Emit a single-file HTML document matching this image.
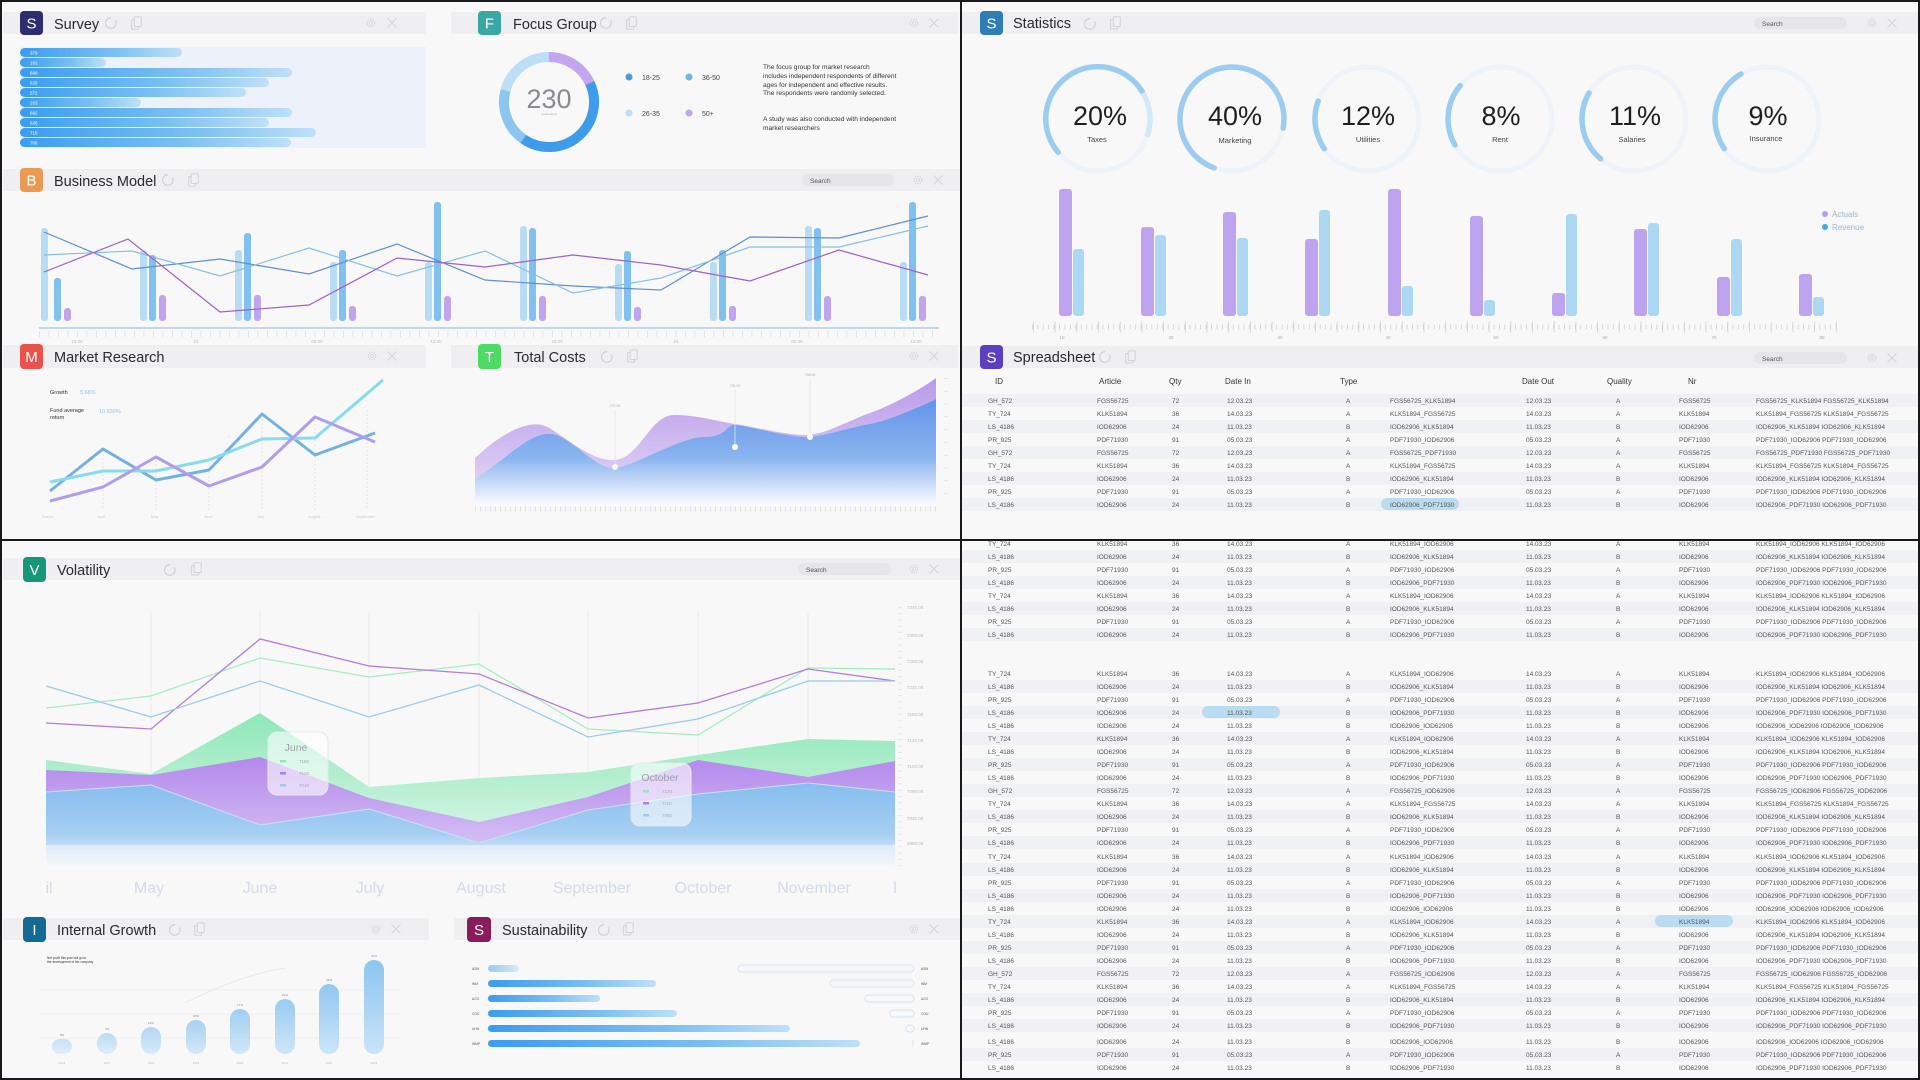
<!DOCTYPE html>
<html><head><meta charset="utf-8"><style>
html,body{margin:0;padding:0;background:#f8f8f9;}
svg{display:block;font-family:"Liberation Sans",sans-serif;}
</style></head><body>
<svg width="1920" height="1080" viewBox="0 0 1920 1080" xmlns="http://www.w3.org/2000/svg">
<defs>
<symbol id="rf" viewBox="0 0 16 16"><path d="M13 5 A6 6 0 1 1 8 2" fill="none" stroke="#cfd0d4" stroke-width="1.3"/></symbol>
<symbol id="cp" viewBox="0 0 16 16"><rect x="3" y="4" width="8" height="11" rx="1" fill="none" stroke="#d2d3d7" stroke-width="1.2"/><rect x="6" y="1" width="8" height="11" rx="1" fill="#f0f0f2" stroke="#d2d3d7" stroke-width="1.2"/></symbol>
<symbol id="gr" viewBox="0 0 16 16"><circle cx="8" cy="8" r="5" fill="none" stroke="#d4d5d9" stroke-width="1.6" stroke-dasharray="2 1.2"/><circle cx="8" cy="8" r="2" fill="none" stroke="#d4d5d9"/></symbol>
<symbol id="xx" viewBox="0 0 16 16"><path d="M2 2L14 14M14 2L2 14" stroke="#d4d5d9" stroke-width="1.2"/></symbol>
<linearGradient id="sb" x1="0" x2="1"><stop offset="0" stop-color="#3b9cf0"/><stop offset="0.6" stop-color="#7cc0f2"/><stop offset="1" stop-color="#bfe0f8"/></linearGradient>
<linearGradient id="tcP" x1="0" y1="0" x2="0" y2="1"><stop offset="0" stop-color="#b99ae9"/><stop offset="1" stop-color="#e6dcf8"/></linearGradient>
<linearGradient id="tcB" x1="0" y1="0" x2="0" y2="1"><stop offset="0" stop-color="#5f92e8"/><stop offset="0.55" stop-color="#86b4ef"/><stop offset="1" stop-color="#ffffff"/></linearGradient>
<linearGradient id="vG" x1="0" y1="0" x2="0" y2="1"><stop offset="0" stop-color="#8ee8b8"/><stop offset="1" stop-color="#e8f8f0"/></linearGradient>
<linearGradient id="vP" x1="0" y1="0" x2="0" y2="1"><stop offset="0" stop-color="#b488ec"/><stop offset="1" stop-color="#dccff6"/></linearGradient>
<linearGradient id="vB" x1="0" y1="0" x2="0" y2="1"><stop offset="0" stop-color="#86bdee"/><stop offset="0.6" stop-color="#a7cff3"/><stop offset="1" stop-color="#f8fbff"/></linearGradient>
<linearGradient id="ig" x1="0" y1="0" x2="0" y2="1"><stop offset="0" stop-color="#8cc5f0"/><stop offset="1" stop-color="#c9e3f8"/></linearGradient>
</defs>
<rect width="1920" height="1080" fill="#f8f8f9"/>

<!-- ================= SURVEY ================= -->
<rect x="3" y="12" width="423" height="22" fill="#efeff1"/>
<rect x="20" y="11" width="23" height="24" rx="4" fill="#2b2e6f"/>
<text x="31.5" y="28.5" font-size="15" fill="#fff" text-anchor="middle">S</text>
<text x="54" y="29" font-size="14.5" fill="#2a2a2e">Survey</text>
<use href="#rf" x="104" y="16" width="14" height="14"/><use href="#cp" x="129" y="15" width="14" height="16"/>
<use href="#gr" x="365" y="17" width="12" height="12"/><use href="#xx" x="386" y="17" width="12" height="12"/>
<g>
<rect x="20" y="47" width="406" height="101" fill="#edf2fa"/>
<g fill="url(#sb)">
<rect x="20" y="48" width="162" height="9" rx="4.5"/><rect x="20" y="58" width="86" height="9" rx="4.5"/>
<rect x="20" y="68" width="272" height="9" rx="4.5"/><rect x="20" y="78" width="249" height="9" rx="4.5"/>
<rect x="20" y="88" width="226" height="9" rx="4.5"/><rect x="20" y="98" width="121" height="9" rx="4.5"/>
<rect x="20" y="108" width="272" height="9" rx="4.5"/><rect x="20" y="118" width="249" height="9" rx="4.5"/>
<rect x="20" y="128" width="296" height="9" rx="4.5"/><rect x="20" y="138" width="271" height="9" rx="4.5"/>
</g>
<g font-size="4.5" fill="#fff"><text x="30" y="54.5">379</text><text x="30" y="64.5">162</text><text x="30" y="74.5">698</text><text x="30" y="84.5">629</text><text x="30" y="94.5">572</text><text x="30" y="104.5">283</text><text x="30" y="114.5">682</text><text x="30" y="124.5">626</text><text x="30" y="134.5">715</text><text x="30" y="144.5">706</text></g>
</g>

<!-- ================= FOCUS GROUP ================= -->
<rect x="451" y="12" width="507" height="22" fill="#efeff1"/>
<rect x="478" y="11" width="23" height="24" rx="4" fill="#3aa7a2"/>
<text x="489.5" y="28.5" font-size="15" fill="#fff" text-anchor="middle">F</text>
<text x="513" y="29" font-size="14.5" fill="#2a2a2e">Focus Group</text>
<use href="#rf" x="599" y="16" width="14" height="14"/><use href="#cp" x="624" y="15" width="14" height="16"/>
<use href="#gr" x="908" y="17" width="12" height="12"/><use href="#xx" x="928" y="17" width="12" height="12"/>
<g fill="none" stroke-width="10">
<path d="M549 57 A45 45 0 0 1 589.8 83" stroke="#c3a6ee"/>
<path d="M589.8 83 A45 45 0 0 1 523.2 138.9" stroke="#3f9ceb"/>
<path d="M523.2 138.9 A45 45 0 0 1 505.5 90.4" stroke="#8cc6f0"/>
<path d="M505.5 90.4 A45 45 0 0 1 549 57" stroke="#bcdff7"/>
</g>
<text x="549" y="108" font-size="27" fill="#8a8a90" text-anchor="middle">230</text>
<text x="549" y="115" font-size="3" fill="#aaa" text-anchor="middle">respondents</text>
<circle cx="629" cy="77" r="3.5" fill="#3f9ceb"/><circle cx="689" cy="77" r="3.5" fill="#6db8ee"/>
<circle cx="629" cy="113" r="3.5" fill="#bcdff7"/><circle cx="689" cy="113" r="3.5" fill="#c3a6ee"/>
<g font-size="7" fill="#444"><text x="642" y="80">18-25</text><text x="702" y="80">36-50</text><text x="642" y="116">26-35</text><text x="702" y="116">50+</text></g>
<g font-size="6.6" fill="#333"><text x="763" y="69">The focus group for market research</text><text x="763" y="78">includes independent respondents of different</text><text x="763" y="87">ages for independent and effective results.</text><text x="763" y="95">The respondents were randomly selected.</text><text x="763" y="121">A study was also conducted with independent</text><text x="763" y="130">market researchers</text></g>

<!-- ================= BUSINESS MODEL ================= -->
<rect x="3" y="169" width="957" height="22" fill="#efeff1"/>
<rect x="20" y="168" width="23" height="24" rx="4" fill="#ea9a52"/>
<text x="31.5" y="185.5" font-size="15" fill="#fff" text-anchor="middle">B</text>
<text x="54" y="186" font-size="14.5" fill="#2a2a2e">Business Model</text>
<use href="#rf" x="161" y="173" width="14" height="14"/><use href="#cp" x="186" y="172" width="14" height="16"/>
<rect x="802" y="174" width="92" height="12" rx="6" fill="#e6e6e9"/><text x="810" y="183" font-size="6.5" fill="#555">Search</text>
<use href="#gr" x="912" y="174" width="12" height="12"/><use href="#xx" x="932" y="174" width="12" height="12"/>
<g>
<g fill="#b9dcf5">
<rect x="41" y="228" width="7" height="93" rx="3"/><rect x="140" y="250" width="7" height="71" rx="3"/><rect x="235" y="250" width="7" height="71" rx="3"/><rect x="330" y="262" width="7" height="59" rx="3"/><rect x="425" y="262" width="7" height="59" rx="3"/><rect x="520" y="226" width="7" height="95" rx="3"/><rect x="615" y="264" width="7" height="57" rx="3"/><rect x="710" y="262" width="7" height="59" rx="3"/><rect x="805" y="226" width="7" height="95" rx="3"/><rect x="900" y="262" width="7" height="59" rx="3"/>
</g>
<g fill="#80c1ef">
<rect x="54" y="278" width="7" height="43" rx="3"/><rect x="149" y="255" width="7" height="66" rx="3"/><rect x="244" y="233" width="7" height="88" rx="3"/><rect x="339" y="250" width="7" height="71" rx="3"/><rect x="434" y="202" width="7" height="119" rx="3"/><rect x="529" y="228" width="7" height="93" rx="3"/><rect x="624" y="251" width="7" height="70" rx="3"/><rect x="719" y="250" width="7" height="71" rx="3"/><rect x="814" y="228" width="7" height="93" rx="3"/><rect x="909" y="202" width="7" height="119" rx="3"/>
</g>
<g fill="#c0a4ee">
<rect x="64" y="308" width="7" height="13" rx="3"/><rect x="159" y="295" width="7" height="26" rx="3"/><rect x="254" y="295" width="7" height="26" rx="3"/><rect x="349" y="306" width="7" height="15" rx="3"/><rect x="444" y="296" width="7" height="25" rx="3"/><rect x="539" y="296" width="7" height="25" rx="3"/><rect x="634" y="307" width="7" height="14" rx="3"/><rect x="729" y="306" width="7" height="15" rx="3"/><rect x="824" y="296" width="7" height="25" rx="3"/><rect x="919" y="296" width="7" height="25" rx="3"/>
</g>
<g fill="none" stroke-width="1.2">
<polyline points="44,232 132,269 220,259 309,274 397,244 485,280 573,286 661,290 750,237 839,238 928,216" stroke="#5f8ed3"/>
<polyline points="44,255 132,251 220,276 309,248 397,276 485,251 573,293 661,278 750,247 839,247 928,226" stroke="#86c0e3"/>
<polyline points="44,272 128,239 220,312 309,305 397,258 485,267 573,255 661,265 750,281 839,250 928,275" stroke="#a05fcb"/>
</g>
<line x1="39" y1="328" x2="939" y2="328" stroke="#bcd8ec" stroke-width="2"/>
<line x1="39" y1="334" x2="939" y2="334" stroke="#dcdde2" stroke-width="6" stroke-dasharray="0.8 8.7"/>
<g font-size="4.5" fill="#bbb" text-anchor="middle"><text x="77" y="343">18:00</text><text x="196" y="343">24</text><text x="317" y="343">06:00</text><text x="436" y="343">12:00</text><text x="557" y="343">18:00</text><text x="676" y="343">24</text><text x="797" y="343">06:00</text><text x="916" y="343">12:00</text></g>
</g>

<!-- ================= MARKET RESEARCH ================= -->
<rect x="3" y="345" width="423" height="23" fill="#efeff1"/>
<rect x="20" y="344" width="23" height="25" rx="4" fill="#e9534b"/>
<text x="31.5" y="362" font-size="15" fill="#fff" text-anchor="middle">M</text>
<text x="54" y="362" font-size="14.5" fill="#2a2a2e">Market Research</text>
<use href="#gr" x="366" y="350" width="12" height="12"/><use href="#xx" x="386" y="350" width="12" height="12"/>
<g font-size="5.5" fill="#333"><text x="50" y="394">Growth</text><text x="50" y="412">Fund average</text><text x="50" y="419">return</text></g>
<g font-size="5.5" fill="#8fc4ec"><text x="80" y="394">5.68%</text><text x="99" y="413">10.639%</text></g>
<g stroke="#e3e4e8" stroke-dasharray="2 2"><line x1="103" y1="450" x2="103" y2="510"/><line x1="156" y1="460" x2="156" y2="510"/><line x1="209" y1="460" x2="209" y2="510"/><line x1="262" y1="415" x2="262" y2="510"/><line x1="315" y1="420" x2="315" y2="510"/><line x1="367" y1="410" x2="367" y2="510"/></g>
<g fill="none" stroke-width="3" stroke-linejoin="round">
<polyline points="50,491 103,449 156,480 209,470 262,414 315,455 375,433" stroke="#74b1e3"/>
<polyline points="50,482 103,471 156,471 209,460 262,439 315,438 383,380" stroke="#86dcef"/>
<polyline points="50,501 103,487 156,457 209,486 262,467 315,417 375,442" stroke="#b19cee"/>
</g>
<g font-size="4" fill="#ccc"><text x="42" y="518">March</text><text x="97" y="518">April</text><text x="151" y="518">May</text><text x="204" y="518">June</text><text x="257" y="518">July</text><text x="308" y="518">August</text><text x="356" y="518">September</text></g>

<!-- ================= TOTAL COSTS ================= -->
<rect x="451" y="345" width="507" height="23" fill="#efeff1"/>
<rect x="478" y="344" width="23" height="25" rx="4" fill="#4fd965"/>
<text x="489.5" y="362" font-size="15" fill="#fff" text-anchor="middle">T</text>
<text x="514" y="362" font-size="14.5" fill="#2a2a2e">Total Costs</text>
<use href="#rf" x="600" y="350" width="14" height="14"/><use href="#cp" x="625" y="348" width="14" height="16"/>
<use href="#gr" x="908" y="350" width="12" height="12"/><use href="#xx" x="928" y="350" width="12" height="12"/>
<path d="M475,458 C505,430 530,420 545,426 S590,462 615,460 S650,415 674,415 S720,422 735,424 S790,436 808,435 S850,420 870,413 S920,390 936,378 L936,506 L475,506Z" fill="url(#tcP)"/>
<path d="M475,479 C505,460 530,432 551,434 S595,470 615,468 S680,437 704,437 S725,425 735,425 S790,438 808,437 S855,426 870,424 S925,405 936,399 L936,506 L475,506Z" fill="url(#tcB)" opacity="0.95"/>
<g stroke="#e4e4ea" stroke-width="0.8"><line x1="615" y1="410" x2="615" y2="466"/><line x1="735" y1="390" x2="735" y2="446"/><line x1="810" y1="379" x2="810" y2="436"/></g>
<g fill="#fff"><circle cx="615" cy="467" r="3"/><circle cx="735" cy="447" r="3"/><circle cx="810" cy="437" r="3"/></g>
<g font-size="3.5" fill="#aab" text-anchor="middle"><text x="615" y="407">707.00</text><text x="735" y="387">752.00</text><text x="810" y="376">755.00</text></g>
<line x1="946" y1="378" x2="946" y2="506" stroke="#dcdde2" stroke-width="4" stroke-dasharray="0.8 12"/>
<line x1="475" y1="509" x2="936" y2="509" stroke="#dcdde2" stroke-width="5" stroke-dasharray="0.8 4.2"/>

<!-- ================= STATISTICS ================= -->
<rect x="962" y="12" width="958" height="22" fill="#efeff1"/>
<rect x="980" y="11" width="23" height="24" rx="4" fill="#2f7db6"/>
<text x="991.5" y="28.5" font-size="15" fill="#fff" text-anchor="middle">S</text>
<text x="1013" y="28" font-size="14.5" fill="#2a2a2e">Statistics</text>
<use href="#rf" x="1083" y="17" width="14" height="14"/><use href="#cp" x="1108" y="15" width="14" height="16"/>
<rect x="1754" y="17" width="93" height="12" rx="6" fill="#e6e6e9"/><text x="1762" y="26" font-size="6.5" fill="#555">Search</text>
<use href="#gr" x="1866" y="17" width="12" height="12"/><use href="#xx" x="1886" y="17" width="12" height="12"/>
<g fill="none" stroke="#edf3f9" stroke-width="5">
<circle cx="1098" cy="119" r="52"/><circle cx="1232" cy="119" r="52"/><circle cx="1367" cy="119" r="52"/><circle cx="1500" cy="119" r="52"/><circle cx="1634" cy="119" r="52"/><circle cx="1767" cy="119" r="52"/>
</g>
<g fill="none" stroke="#9ccdf0" stroke-width="5.5" stroke-linecap="round">
<path d="M1058.2 152.4 A52 52 0 1 1 1143 93"/>
<path d="M1214.2 167.9 A52 52 0 1 1 1283.2 128"/>
<path d="M1324.4 148.8 A52 52 0 0 1 1318.1 101.2"/>
<path d="M1455 145 A52 52 0 0 1 1460.2 85.6"/>
<path d="M1600.6 158.8 A52 52 0 0 1 1589 93"/>
<path d="M1724.4 148.8 A52 52 0 0 1 1741 74"/>
</g>
<path d="M1143 93 A52 52 0 0 1 1146.9 136.8" fill="none" stroke="#d4e9f8" stroke-width="5.5"/>
<g font-size="27" fill="#1f1f22" text-anchor="middle"><text x="1100" y="125">20%</text><text x="1235" y="125">40%</text><text x="1368" y="125">12%</text><text x="1501" y="125">8%</text><text x="1635" y="125">11%</text><text x="1768" y="125">9%</text></g>
<g font-size="7.5" fill="#444" text-anchor="middle"><text x="1097" y="142">Taxes</text><text x="1235" y="143">Marketing</text><text x="1368" y="142">Utilities</text><text x="1500" y="142">Rent</text><text x="1632" y="142">Salaries</text><text x="1766" y="141">Insurance</text></g>
<g fill="#bea3ef">
<rect x="1059" y="189" width="13" height="127" rx="3"/><rect x="1141" y="227" width="13" height="89" rx="3"/><rect x="1223" y="212" width="13" height="104" rx="3"/><rect x="1305" y="239" width="13" height="77" rx="3"/><rect x="1388" y="189" width="13" height="127" rx="3"/><rect x="1470" y="216" width="13" height="100" rx="3"/><rect x="1552" y="293" width="13" height="23" rx="3"/><rect x="1634" y="229" width="13" height="87" rx="3"/><rect x="1717" y="277" width="13" height="39" rx="3"/><rect x="1799" y="274" width="13" height="42" rx="3"/>
</g>
<g fill="#acd8f3">
<rect x="1073" y="249" width="11" height="67" rx="3"/><rect x="1155" y="235" width="11" height="81" rx="3"/><rect x="1237" y="238" width="11" height="78" rx="3"/><rect x="1319" y="210" width="11" height="106" rx="3"/><rect x="1402" y="286" width="11" height="30" rx="3"/><rect x="1484" y="300" width="11" height="16" rx="3"/><rect x="1566" y="214" width="11" height="102" rx="3"/><rect x="1648" y="223" width="11" height="93" rx="3"/><rect x="1731" y="239" width="11" height="77" rx="3"/><rect x="1813" y="297" width="11" height="19" rx="3"/>
</g>
<circle cx="1825" cy="214" r="3" fill="#b79bee"/><circle cx="1825" cy="227" r="3" fill="#3aaee3"/>
<g font-size="8" fill="#9cb5d8"><text x="1832" y="217">Actuals</text><text x="1832" y="230">Revenue</text></g>
<line x1="1032" y1="327" x2="1837" y2="327" stroke="#cfd0d6" stroke-width="5" stroke-dasharray="0.8 4.63"/>
<line x1="1032" y1="327" x2="1837" y2="327" stroke="#cfd0d6" stroke-width="11" stroke-dasharray="0.8 20.9" stroke-dashoffset="-1"/>
<g font-size="4.5" fill="#aaa" text-anchor="middle"><text x="1062" y="339">10</text><text x="1171" y="339">20</text><text x="1280" y="339">30</text><text x="1388" y="339">40</text><text x="1496" y="339">50</text><text x="1605" y="339">60</text><text x="1714" y="339">70</text><text x="1822" y="339">80</text></g>

<!-- ================= SPREADSHEET ================= -->
<rect x="962" y="346" width="958" height="22" fill="#efeff1"/>
<rect x="980" y="345" width="23" height="24" rx="4" fill="#5a3fbf"/>
<text x="991.5" y="362.5" font-size="15" fill="#fff" text-anchor="middle">S</text>
<text x="1013" y="362" font-size="14.5" fill="#2a2a2e">Spreadsheet</text>
<use href="#rf" x="1098" y="350" width="14" height="14"/><use href="#cp" x="1123" y="349" width="14" height="16"/>
<rect x="1754" y="352" width="93" height="12" rx="6" fill="#e6e6e9"/><text x="1762" y="361" font-size="6.5" fill="#555">Search</text>
<use href="#gr" x="1866" y="352" width="12" height="12"/><use href="#xx" x="1886" y="352" width="12" height="12"/>
<g font-size="8" fill="#333"><text x="995" y="384">ID</text><text x="1099" y="384">Article</text><text x="1169" y="384">Qty</text><text x="1225" y="384">Date In</text><text x="1340" y="384">Type</text><text x="1522" y="384">Date Out</text><text x="1607" y="384">Quality</text><text x="1688" y="384">Nr</text></g>
<g fill="#f0f1f4">
<rect x="962" y="394" width="958" height="13"/><rect x="962" y="420" width="958" height="13"/><rect x="962" y="446" width="958" height="13"/><rect x="962" y="472" width="958" height="13"/><rect x="962" y="498" width="958" height="13"/>
<rect x="962" y="550" width="958" height="13"/><rect x="962" y="576" width="958" height="13"/><rect x="962" y="602" width="958" height="13"/><rect x="962" y="628" width="958" height="13"/>
<rect x="962" y="680" width="958" height="13"/><rect x="962" y="706" width="958" height="13"/><rect x="962" y="732" width="958" height="13"/><rect x="962" y="758" width="958" height="13"/><rect x="962" y="784" width="958" height="13"/><rect x="962" y="810" width="958" height="13"/><rect x="962" y="836" width="958" height="13"/>
<rect x="962" y="863" width="958" height="13"/><rect x="962" y="889" width="958" height="13"/><rect x="962" y="915" width="958" height="13"/><rect x="962" y="941" width="958" height="13"/><rect x="962" y="967" width="958" height="13"/><rect x="962" y="993" width="958" height="13"/><rect x="962" y="1019" width="958" height="13"/><rect x="962" y="1048" width="958" height="13"/>
</g>
<g fill="#b9dcf3"><rect x="1381" y="498" width="78" height="12" rx="6"/><rect x="1202" y="706" width="78" height="12" rx="6"/><rect x="1655" y="915" width="78" height="12" rx="6"/></g>
<g font-size="6.5" fill="#555">
<text y="403"><tspan x="988">GH_572</tspan><tspan x="1097">FGS56725</tspan><tspan x="1172">72</tspan><tspan x="1227">12.03.23</tspan><tspan x="1346">A</tspan><tspan x="1390">FGS56725_KLK51894</tspan><tspan x="1526">12.03.23</tspan><tspan x="1616">A</tspan><tspan x="1679">FGS56725</tspan><tspan x="1756">FGS56725_KLK51894 FGS56725_KLK51894</tspan></text>
<text y="416"><tspan x="988">TY_724</tspan><tspan x="1097">KLK51894</tspan><tspan x="1172">36</tspan><tspan x="1227">14.03.23</tspan><tspan x="1346">A</tspan><tspan x="1390">KLK51894_FGS56725</tspan><tspan x="1526">14.03.23</tspan><tspan x="1616">A</tspan><tspan x="1679">KLK51894</tspan><tspan x="1756">KLK51894_FGS56725 KLK51894_FGS56725</tspan></text>
<text y="429"><tspan x="988">LS_4186</tspan><tspan x="1097">IOD62906</tspan><tspan x="1172">24</tspan><tspan x="1227">11.03.23</tspan><tspan x="1346">B</tspan><tspan x="1390">IOD62906_KLK51894</tspan><tspan x="1526">11.03.23</tspan><tspan x="1616">B</tspan><tspan x="1679">IOD62906</tspan><tspan x="1756">IOD62906_KLK51894 IOD62906_KLK51894</tspan></text>
<text y="442"><tspan x="988">PR_925</tspan><tspan x="1097">PDF71930</tspan><tspan x="1172">91</tspan><tspan x="1227">05.03.23</tspan><tspan x="1346">A</tspan><tspan x="1390">PDF71930_IOD62906</tspan><tspan x="1526">05.03.23</tspan><tspan x="1616">A</tspan><tspan x="1679">PDF71930</tspan><tspan x="1756">PDF71930_IOD62906 PDF71930_IOD62906</tspan></text>
<text y="455"><tspan x="988">GH_572</tspan><tspan x="1097">FGS56725</tspan><tspan x="1172">72</tspan><tspan x="1227">12.03.23</tspan><tspan x="1346">A</tspan><tspan x="1390">FGS56725_PDF71930</tspan><tspan x="1526">12.03.23</tspan><tspan x="1616">A</tspan><tspan x="1679">FGS56725</tspan><tspan x="1756">FGS56725_PDF71930 FGS56725_PDF71930</tspan></text>
<text y="468"><tspan x="988">TY_724</tspan><tspan x="1097">KLK51894</tspan><tspan x="1172">36</tspan><tspan x="1227">14.03.23</tspan><tspan x="1346">A</tspan><tspan x="1390">KLK51894_FGS56725</tspan><tspan x="1526">14.03.23</tspan><tspan x="1616">A</tspan><tspan x="1679">KLK51894</tspan><tspan x="1756">KLK51894_FGS56725 KLK51894_FGS56725</tspan></text>
<text y="481"><tspan x="988">LS_4186</tspan><tspan x="1097">IOD62906</tspan><tspan x="1172">24</tspan><tspan x="1227">11.03.23</tspan><tspan x="1346">B</tspan><tspan x="1390">IOD62906_KLK51894</tspan><tspan x="1526">11.03.23</tspan><tspan x="1616">B</tspan><tspan x="1679">IOD62906</tspan><tspan x="1756">IOD62906_KLK51894 IOD62906_KLK51894</tspan></text>
<text y="494"><tspan x="988">PR_925</tspan><tspan x="1097">PDF71930</tspan><tspan x="1172">91</tspan><tspan x="1227">05.03.23</tspan><tspan x="1346">A</tspan><tspan x="1390">PDF71930_IOD62906</tspan><tspan x="1526">05.03.23</tspan><tspan x="1616">A</tspan><tspan x="1679">PDF71930</tspan><tspan x="1756">PDF71930_IOD62906 PDF71930_IOD62906</tspan></text>
<text y="507"><tspan x="988">LS_4186</tspan><tspan x="1097">IOD62906</tspan><tspan x="1172">24</tspan><tspan x="1227">11.03.23</tspan><tspan x="1346">B</tspan><tspan x="1390">IOD62906_PDF71930</tspan><tspan x="1526">11.03.23</tspan><tspan x="1616">B</tspan><tspan x="1679">IOD62906</tspan><tspan x="1756">IOD62906_PDF71930 IOD62906_PDF71930</tspan></text>

<text y="546"><tspan x="988">TY_724</tspan><tspan x="1097">KLK51894</tspan><tspan x="1172">36</tspan><tspan x="1227">14.03.23</tspan><tspan x="1346">A</tspan><tspan x="1390">KLK51894_IOD62906</tspan><tspan x="1526">14.03.23</tspan><tspan x="1616">A</tspan><tspan x="1679">KLK51894</tspan><tspan x="1756">KLK51894_IOD62906 KLK51894_IOD62906</tspan></text>
<text y="559"><tspan x="988">LS_4186</tspan><tspan x="1097">IOD62906</tspan><tspan x="1172">24</tspan><tspan x="1227">11.03.23</tspan><tspan x="1346">B</tspan><tspan x="1390">IOD62906_KLK51894</tspan><tspan x="1526">11.03.23</tspan><tspan x="1616">B</tspan><tspan x="1679">IOD62906</tspan><tspan x="1756">IOD62906_KLK51894 IOD62906_KLK51894</tspan></text>
<text y="572"><tspan x="988">PR_925</tspan><tspan x="1097">PDF71930</tspan><tspan x="1172">91</tspan><tspan x="1227">05.03.23</tspan><tspan x="1346">A</tspan><tspan x="1390">PDF71930_IOD62906</tspan><tspan x="1526">05.03.23</tspan><tspan x="1616">A</tspan><tspan x="1679">PDF71930</tspan><tspan x="1756">PDF71930_IOD62906 PDF71930_IOD62906</tspan></text>
<text y="585"><tspan x="988">LS_4186</tspan><tspan x="1097">IOD62906</tspan><tspan x="1172">24</tspan><tspan x="1227">11.03.23</tspan><tspan x="1346">B</tspan><tspan x="1390">IOD62906_PDF71930</tspan><tspan x="1526">11.03.23</tspan><tspan x="1616">B</tspan><tspan x="1679">IOD62906</tspan><tspan x="1756">IOD62906_PDF71930 IOD62906_PDF71930</tspan></text>
<text y="598"><tspan x="988">TY_724</tspan><tspan x="1097">KLK51894</tspan><tspan x="1172">36</tspan><tspan x="1227">14.03.23</tspan><tspan x="1346">A</tspan><tspan x="1390">KLK51894_IOD62906</tspan><tspan x="1526">14.03.23</tspan><tspan x="1616">A</tspan><tspan x="1679">KLK51894</tspan><tspan x="1756">KLK51894_IOD62906 KLK51894_IOD62906</tspan></text>
<text y="611"><tspan x="988">LS_4186</tspan><tspan x="1097">IOD62906</tspan><tspan x="1172">24</tspan><tspan x="1227">11.03.23</tspan><tspan x="1346">B</tspan><tspan x="1390">IOD62906_KLK51894</tspan><tspan x="1526">11.03.23</tspan><tspan x="1616">B</tspan><tspan x="1679">IOD62906</tspan><tspan x="1756">IOD62906_KLK51894 IOD62906_KLK51894</tspan></text>
<text y="624"><tspan x="988">PR_925</tspan><tspan x="1097">PDF71930</tspan><tspan x="1172">91</tspan><tspan x="1227">05.03.23</tspan><tspan x="1346">A</tspan><tspan x="1390">PDF71930_IOD62906</tspan><tspan x="1526">05.03.23</tspan><tspan x="1616">A</tspan><tspan x="1679">PDF71930</tspan><tspan x="1756">PDF71930_IOD62906 PDF71930_IOD62906</tspan></text>
<text y="637"><tspan x="988">LS_4186</tspan><tspan x="1097">IOD62906</tspan><tspan x="1172">24</tspan><tspan x="1227">11.03.23</tspan><tspan x="1346">B</tspan><tspan x="1390">IOD62906_PDF71930</tspan><tspan x="1526">11.03.23</tspan><tspan x="1616">B</tspan><tspan x="1679">IOD62906</tspan><tspan x="1756">IOD62906_PDF71930 IOD62906_PDF71930</tspan></text>

<text y="676"><tspan x="988">TY_724</tspan><tspan x="1097">KLK51894</tspan><tspan x="1172">36</tspan><tspan x="1227">14.03.23</tspan><tspan x="1346">A</tspan><tspan x="1390">KLK51894_IOD62906</tspan><tspan x="1526">14.03.23</tspan><tspan x="1616">A</tspan><tspan x="1679">KLK51894</tspan><tspan x="1756">KLK51894_IOD62906 KLK51894_IOD62906</tspan></text>
<text y="689"><tspan x="988">LS_4186</tspan><tspan x="1097">IOD62906</tspan><tspan x="1172">24</tspan><tspan x="1227">11.03.23</tspan><tspan x="1346">B</tspan><tspan x="1390">IOD62906_KLK51894</tspan><tspan x="1526">11.03.23</tspan><tspan x="1616">B</tspan><tspan x="1679">IOD62906</tspan><tspan x="1756">IOD62906_KLK51894 IOD62906_KLK51894</tspan></text>
<text y="702"><tspan x="988">PR_925</tspan><tspan x="1097">PDF71930</tspan><tspan x="1172">91</tspan><tspan x="1227">05.03.23</tspan><tspan x="1346">A</tspan><tspan x="1390">PDF71930_IOD62906</tspan><tspan x="1526">05.03.23</tspan><tspan x="1616">A</tspan><tspan x="1679">PDF71930</tspan><tspan x="1756">PDF71930_IOD62906 PDF71930_IOD62906</tspan></text>
<text y="715"><tspan x="988">LS_4186</tspan><tspan x="1097">IOD62906</tspan><tspan x="1172">24</tspan><tspan x="1227">11.03.23</tspan><tspan x="1346">B</tspan><tspan x="1390">IOD62906_PDF71930</tspan><tspan x="1526">11.03.23</tspan><tspan x="1616">B</tspan><tspan x="1679">IOD62906</tspan><tspan x="1756">IOD62906_PDF71930 IOD62906_PDF71930</tspan></text>
<text y="728"><tspan x="988">LS_4186</tspan><tspan x="1097">IOD62906</tspan><tspan x="1172">24</tspan><tspan x="1227">11.03.23</tspan><tspan x="1346">B</tspan><tspan x="1390">IOD62906_IOD62906</tspan><tspan x="1526">11.03.23</tspan><tspan x="1616">B</tspan><tspan x="1679">IOD62906</tspan><tspan x="1756">IOD62906_IOD62906 IOD62906_IOD62906</tspan></text>
<text y="741"><tspan x="988">TY_724</tspan><tspan x="1097">KLK51894</tspan><tspan x="1172">36</tspan><tspan x="1227">14.03.23</tspan><tspan x="1346">A</tspan><tspan x="1390">KLK51894_IOD62906</tspan><tspan x="1526">14.03.23</tspan><tspan x="1616">A</tspan><tspan x="1679">KLK51894</tspan><tspan x="1756">KLK51894_IOD62906 KLK51894_IOD62906</tspan></text>
<text y="754"><tspan x="988">LS_4186</tspan><tspan x="1097">IOD62906</tspan><tspan x="1172">24</tspan><tspan x="1227">11.03.23</tspan><tspan x="1346">B</tspan><tspan x="1390">IOD62906_KLK51894</tspan><tspan x="1526">11.03.23</tspan><tspan x="1616">B</tspan><tspan x="1679">IOD62906</tspan><tspan x="1756">IOD62906_KLK51894 IOD62906_KLK51894</tspan></text>
<text y="767"><tspan x="988">PR_925</tspan><tspan x="1097">PDF71930</tspan><tspan x="1172">91</tspan><tspan x="1227">05.03.23</tspan><tspan x="1346">A</tspan><tspan x="1390">PDF71930_IOD62906</tspan><tspan x="1526">05.03.23</tspan><tspan x="1616">A</tspan><tspan x="1679">PDF71930</tspan><tspan x="1756">PDF71930_IOD62906 PDF71930_IOD62906</tspan></text>
<text y="780"><tspan x="988">LS_4186</tspan><tspan x="1097">IOD62906</tspan><tspan x="1172">24</tspan><tspan x="1227">11.03.23</tspan><tspan x="1346">B</tspan><tspan x="1390">IOD62906_PDF71930</tspan><tspan x="1526">11.03.23</tspan><tspan x="1616">B</tspan><tspan x="1679">IOD62906</tspan><tspan x="1756">IOD62906_PDF71930 IOD62906_PDF71930</tspan></text>
<text y="793"><tspan x="988">GH_572</tspan><tspan x="1097">FGS56725</tspan><tspan x="1172">72</tspan><tspan x="1227">12.03.23</tspan><tspan x="1346">A</tspan><tspan x="1390">FGS56725_IOD62906</tspan><tspan x="1526">12.03.23</tspan><tspan x="1616">A</tspan><tspan x="1679">FGS56725</tspan><tspan x="1756">FGS56725_IOD62906 FGS56725_IOD62906</tspan></text>
<text y="806"><tspan x="988">TY_724</tspan><tspan x="1097">KLK51894</tspan><tspan x="1172">36</tspan><tspan x="1227">14.03.23</tspan><tspan x="1346">A</tspan><tspan x="1390">KLK51894_FGS56725</tspan><tspan x="1526">14.03.23</tspan><tspan x="1616">A</tspan><tspan x="1679">KLK51894</tspan><tspan x="1756">KLK51894_FGS56725 KLK51894_FGS56725</tspan></text>
<text y="819"><tspan x="988">LS_4186</tspan><tspan x="1097">IOD62906</tspan><tspan x="1172">24</tspan><tspan x="1227">11.03.23</tspan><tspan x="1346">B</tspan><tspan x="1390">IOD62906_KLK51894</tspan><tspan x="1526">11.03.23</tspan><tspan x="1616">B</tspan><tspan x="1679">IOD62906</tspan><tspan x="1756">IOD62906_KLK51894 IOD62906_KLK51894</tspan></text>
<text y="832"><tspan x="988">PR_925</tspan><tspan x="1097">PDF71930</tspan><tspan x="1172">91</tspan><tspan x="1227">05.03.23</tspan><tspan x="1346">A</tspan><tspan x="1390">PDF71930_IOD62906</tspan><tspan x="1526">05.03.23</tspan><tspan x="1616">A</tspan><tspan x="1679">PDF71930</tspan><tspan x="1756">PDF71930_IOD62906 PDF71930_IOD62906</tspan></text>
<text y="845"><tspan x="988">LS_4186</tspan><tspan x="1097">IOD62906</tspan><tspan x="1172">24</tspan><tspan x="1227">11.03.23</tspan><tspan x="1346">B</tspan><tspan x="1390">IOD62906_PDF71930</tspan><tspan x="1526">11.03.23</tspan><tspan x="1616">B</tspan><tspan x="1679">IOD62906</tspan><tspan x="1756">IOD62906_PDF71930 IOD62906_PDF71930</tspan></text>

<text y="859"><tspan x="988">TY_724</tspan><tspan x="1097">KLK51894</tspan><tspan x="1172">36</tspan><tspan x="1227">14.03.23</tspan><tspan x="1346">A</tspan><tspan x="1390">KLK51894_IOD62906</tspan><tspan x="1526">14.03.23</tspan><tspan x="1616">A</tspan><tspan x="1679">KLK51894</tspan><tspan x="1756">KLK51894_IOD62906 KLK51894_IOD62906</tspan></text>
<text y="872"><tspan x="988">LS_4186</tspan><tspan x="1097">IOD62906</tspan><tspan x="1172">24</tspan><tspan x="1227">11.03.23</tspan><tspan x="1346">B</tspan><tspan x="1390">IOD62906_KLK51894</tspan><tspan x="1526">11.03.23</tspan><tspan x="1616">B</tspan><tspan x="1679">IOD62906</tspan><tspan x="1756">IOD62906_KLK51894 IOD62906_KLK51894</tspan></text>
<text y="885"><tspan x="988">PR_925</tspan><tspan x="1097">PDF71930</tspan><tspan x="1172">91</tspan><tspan x="1227">05.03.23</tspan><tspan x="1346">A</tspan><tspan x="1390">PDF71930_IOD62906</tspan><tspan x="1526">05.03.23</tspan><tspan x="1616">A</tspan><tspan x="1679">PDF71930</tspan><tspan x="1756">PDF71930_IOD62906 PDF71930_IOD62906</tspan></text>
<text y="898"><tspan x="988">LS_4186</tspan><tspan x="1097">IOD62906</tspan><tspan x="1172">24</tspan><tspan x="1227">11.03.23</tspan><tspan x="1346">B</tspan><tspan x="1390">IOD62906_PDF71930</tspan><tspan x="1526">11.03.23</tspan><tspan x="1616">B</tspan><tspan x="1679">IOD62906</tspan><tspan x="1756">IOD62906_PDF71930 IOD62906_PDF71930</tspan></text>
<text y="911"><tspan x="988">LS_4186</tspan><tspan x="1097">IOD62906</tspan><tspan x="1172">24</tspan><tspan x="1227">11.03.23</tspan><tspan x="1346">B</tspan><tspan x="1390">IOD62906_IOD62906</tspan><tspan x="1526">11.03.23</tspan><tspan x="1616">B</tspan><tspan x="1679">IOD62906</tspan><tspan x="1756">IOD62906_IOD62906 IOD62906_IOD62906</tspan></text>
<text y="924"><tspan x="988">TY_724</tspan><tspan x="1097">KLK51894</tspan><tspan x="1172">36</tspan><tspan x="1227">14.03.23</tspan><tspan x="1346">A</tspan><tspan x="1390">KLK51894_IOD62906</tspan><tspan x="1526">14.03.23</tspan><tspan x="1616">A</tspan><tspan x="1679">KLK51894</tspan><tspan x="1756">KLK51894_IOD62906 KLK51894_IOD62906</tspan></text>
<text y="937"><tspan x="988">LS_4186</tspan><tspan x="1097">IOD62906</tspan><tspan x="1172">24</tspan><tspan x="1227">11.03.23</tspan><tspan x="1346">B</tspan><tspan x="1390">IOD62906_KLK51894</tspan><tspan x="1526">11.03.23</tspan><tspan x="1616">B</tspan><tspan x="1679">IOD62906</tspan><tspan x="1756">IOD62906_KLK51894 IOD62906_KLK51894</tspan></text>
<text y="950"><tspan x="988">PR_925</tspan><tspan x="1097">PDF71930</tspan><tspan x="1172">91</tspan><tspan x="1227">05.03.23</tspan><tspan x="1346">A</tspan><tspan x="1390">PDF71930_IOD62906</tspan><tspan x="1526">05.03.23</tspan><tspan x="1616">A</tspan><tspan x="1679">PDF71930</tspan><tspan x="1756">PDF71930_IOD62906 PDF71930_IOD62906</tspan></text>
<text y="963"><tspan x="988">LS_4186</tspan><tspan x="1097">IOD62906</tspan><tspan x="1172">24</tspan><tspan x="1227">11.03.23</tspan><tspan x="1346">B</tspan><tspan x="1390">IOD62906_PDF71930</tspan><tspan x="1526">11.03.23</tspan><tspan x="1616">B</tspan><tspan x="1679">IOD62906</tspan><tspan x="1756">IOD62906_PDF71930 IOD62906_PDF71930</tspan></text>
<text y="976"><tspan x="988">GH_572</tspan><tspan x="1097">FGS56725</tspan><tspan x="1172">72</tspan><tspan x="1227">12.03.23</tspan><tspan x="1346">A</tspan><tspan x="1390">FGS56725_IOD62906</tspan><tspan x="1526">12.03.23</tspan><tspan x="1616">A</tspan><tspan x="1679">FGS56725</tspan><tspan x="1756">FGS56725_IOD62906 FGS56725_IOD62906</tspan></text>
<text y="989"><tspan x="988">TY_724</tspan><tspan x="1097">KLK51894</tspan><tspan x="1172">36</tspan><tspan x="1227">14.03.23</tspan><tspan x="1346">A</tspan><tspan x="1390">KLK51894_FGS56725</tspan><tspan x="1526">14.03.23</tspan><tspan x="1616">A</tspan><tspan x="1679">KLK51894</tspan><tspan x="1756">KLK51894_FGS56725 KLK51894_FGS56725</tspan></text>
<text y="1002"><tspan x="988">LS_4186</tspan><tspan x="1097">IOD62906</tspan><tspan x="1172">24</tspan><tspan x="1227">11.03.23</tspan><tspan x="1346">B</tspan><tspan x="1390">IOD62906_KLK51894</tspan><tspan x="1526">11.03.23</tspan><tspan x="1616">B</tspan><tspan x="1679">IOD62906</tspan><tspan x="1756">IOD62906_KLK51894 IOD62906_KLK51894</tspan></text>
<text y="1015"><tspan x="988">PR_925</tspan><tspan x="1097">PDF71930</tspan><tspan x="1172">91</tspan><tspan x="1227">05.03.23</tspan><tspan x="1346">A</tspan><tspan x="1390">PDF71930_IOD62906</tspan><tspan x="1526">05.03.23</tspan><tspan x="1616">A</tspan><tspan x="1679">PDF71930</tspan><tspan x="1756">PDF71930_IOD62906 PDF71930_IOD62906</tspan></text>
<text y="1028"><tspan x="988">LS_4186</tspan><tspan x="1097">IOD62906</tspan><tspan x="1172">24</tspan><tspan x="1227">11.03.23</tspan><tspan x="1346">B</tspan><tspan x="1390">IOD62906_PDF71930</tspan><tspan x="1526">11.03.23</tspan><tspan x="1616">B</tspan><tspan x="1679">IOD62906</tspan><tspan x="1756">IOD62906_PDF71930 IOD62906_PDF71930</tspan></text>

<text y="1044"><tspan x="988">LS_4186</tspan><tspan x="1097">IOD62906</tspan><tspan x="1172">24</tspan><tspan x="1227">11.03.23</tspan><tspan x="1346">B</tspan><tspan x="1390">IOD62906_IOD62906</tspan><tspan x="1526">11.03.23</tspan><tspan x="1616">B</tspan><tspan x="1679">IOD62906</tspan><tspan x="1756">IOD62906_IOD62906 IOD62906_IOD62906</tspan></text>
<text y="1057"><tspan x="988">PR_925</tspan><tspan x="1097">PDF71930</tspan><tspan x="1172">91</tspan><tspan x="1227">05.03.23</tspan><tspan x="1346">A</tspan><tspan x="1390">PDF71930_IOD62906</tspan><tspan x="1526">05.03.23</tspan><tspan x="1616">A</tspan><tspan x="1679">PDF71930</tspan><tspan x="1756">PDF71930_IOD62906 PDF71930_IOD62906</tspan></text>
<text y="1070"><tspan x="988">LS_4186</tspan><tspan x="1097">IOD62906</tspan><tspan x="1172">24</tspan><tspan x="1227">11.03.23</tspan><tspan x="1346">B</tspan><tspan x="1390">IOD62906_PDF71930</tspan><tspan x="1526">11.03.23</tspan><tspan x="1616">B</tspan><tspan x="1679">IOD62906</tspan><tspan x="1756">IOD62906_PDF71930 IOD62906_PDF71930</tspan></text>
</g>

<!-- ================= VOLATILITY ================= -->
<rect x="3" y="558" width="957" height="22" fill="#efeff1"/>
<rect x="23" y="557" width="23" height="25" rx="4" fill="#16977a"/>
<text x="34.5" y="575" font-size="15" fill="#fff" text-anchor="middle">V</text>
<text x="57" y="575" font-size="14.5" fill="#2a2a2e">Volatility</text>
<use href="#rf" x="163" y="563" width="14" height="14"/><use href="#cp" x="189" y="561" width="14" height="16"/>
<rect x="798" y="563" width="93" height="12" rx="6" fill="#e6e6e9"/><text x="806" y="572" font-size="6.5" fill="#555">Search</text>
<use href="#gr" x="908" y="563" width="12" height="12"/><use href="#xx" x="928" y="563" width="12" height="12"/>
<g stroke="#ececf0" stroke-width="1"><line x1="151" y1="612" x2="151" y2="869"/><line x1="260" y1="612" x2="260" y2="869"/><line x1="369" y1="612" x2="369" y2="869"/><line x1="479" y1="612" x2="479" y2="869"/><line x1="588" y1="612" x2="588" y2="869"/><line x1="698" y1="612" x2="698" y2="869"/><line x1="808" y1="612" x2="808" y2="869"/></g>
<polygon points="46,760 151,774 260,713 369,787 479,778 588,772 698,755 808,739 895,741 895,869 46,869" fill="url(#vG)"/>
<polygon points="46,770 151,775 260,757 369,798 479,822 588,797 698,760 808,777 895,761 895,869 46,869" fill="url(#vP)"/>
<polygon points="46,792 151,785 260,825 369,809 479,843 588,810 698,794 808,783 895,792 895,869 46,869" fill="url(#vB)"/>
<polyline points="46,792 151,785 260,825 369,809 479,843 588,810 698,794 808,783 895,792" fill="none" stroke="#c8e0f6" stroke-width="1"/>
<rect x="40" y="845" width="860" height="28" fill="#f8f8f9" opacity="0.55"/>
<g fill="none" stroke-width="1.3">
<polyline points="46,708 151,696 260,658 369,677 479,664 588,729 698,735 808,668 895,669" stroke="#a6ecc0"/>
<polyline points="46,723 151,729 260,639 369,666 479,674 588,718 698,703 808,669 895,681" stroke="#b57bdc"/>
<polyline points="46,686 151,717 260,681 369,717 479,685 588,737 698,719 808,681 895,681" stroke="#9ccaec"/>
</g>
<rect x="268" y="732" width="60" height="63" rx="9" fill="#ffffff" fill-opacity="0.6" stroke="#e6e8ee"/>
<text x="296" y="751" font-size="10.5" fill="#9aa0ad" text-anchor="middle">June</text>
<g><rect x="280" y="760" width="6" height="2.5" fill="#8ee8b8"/><rect x="280" y="772" width="6" height="2.5" fill="#b27ce8"/><rect x="280" y="784" width="6" height="2.5" fill="#9ccaec"/></g>
<g font-size="4.5" fill="#aaa"><text x="299" y="763">7180</text><text x="299" y="775">7120</text><text x="299" y="787">7010</text></g>
<rect x="631" y="763" width="60" height="63" rx="9" fill="#ffffff" fill-opacity="0.6" stroke="#e6e8ee"/>
<text x="660" y="781" font-size="10.5" fill="#9aa0ad" text-anchor="middle">October</text>
<g><rect x="643" y="790" width="6" height="2.5" fill="#8ee8b8"/><rect x="643" y="802" width="6" height="2.5" fill="#b27ce8"/><rect x="643" y="814" width="6" height="2.5" fill="#9ccaec"/></g>
<g font-size="4.5" fill="#aaa"><text x="662" y="793">7120</text><text x="662" y="805">7110</text><text x="662" y="817">7060</text></g>
<line x1="900" y1="607" x2="900" y2="869" stroke="#dcdde2" stroke-width="3" stroke-dasharray="0.8 5.5"/>
<g font-size="4.5" fill="#bbb"><text x="907" y="609">7340.00</text><text x="907" y="637">7300.00</text><text x="907" y="663">7260.00</text><text x="907" y="689">7220.00</text><text x="907" y="716">7180.00</text><text x="907" y="742">7140.00</text><text x="907" y="768">7100.00</text><text x="907" y="793">7060.00</text><text x="907" y="820">7020.00</text><text x="907" y="845">6980.00</text></g>
<g font-size="16" fill="#d3dae8" text-anchor="middle"><text x="49" y="893">il</text><text x="149" y="893">May</text><text x="260" y="893">June</text><text x="370" y="893">July</text><text x="481" y="893">August</text><text x="592" y="893">September</text><text x="703" y="893">October</text><text x="814" y="893">November</text><text x="895" y="893">l</text></g>

<!-- ================= INTERNAL GROWTH ================= -->
<rect x="3" y="918" width="426" height="22" fill="#efeff1"/>
<rect x="23" y="917" width="23" height="25" rx="4" fill="#136a95"/>
<text x="34.5" y="935" font-size="15" fill="#fff" text-anchor="middle">I</text>
<text x="57" y="935" font-size="14.5" fill="#2a2a2e">Internal Growth</text>
<use href="#rf" x="168" y="923" width="14" height="14"/><use href="#cp" x="192" y="921" width="14" height="16"/>
<use href="#gr" x="370" y="923" width="12" height="12"/><use href="#xx" x="390" y="923" width="12" height="12"/>
<g font-size="3.2" fill="#333"><text x="47" y="959">Net profit this year will go to</text><text x="47" y="963">the development of the company</text></g>
<g stroke="#eeeff2" stroke-width="0.8"><line x1="40" y1="990" x2="400" y2="990"/><line x1="40" y1="1014" x2="400" y2="1014"/><line x1="40" y1="1038" x2="400" y2="1038"/></g>
<path d="M185 1003 Q240 975 285 968" fill="none" stroke="#e6e6ea" stroke-width="0.8"/>
<g fill="url(#ig)">
<rect x="52" y="1039" width="20" height="15" rx="7.5" opacity="0.45"/>
<rect x="97" y="1033" width="20" height="21" rx="10" opacity="0.55"/>
<rect x="141" y="1027" width="20" height="27" rx="10" opacity="0.65"/>
<rect x="186" y="1020" width="20" height="34" rx="10" opacity="0.75"/>
<rect x="230" y="1009" width="20" height="45" rx="10" opacity="0.82"/>
<rect x="275" y="999" width="20" height="55" rx="10" opacity="0.88"/>
<rect x="319" y="984" width="20" height="70" rx="10" opacity="0.94"/>
<rect x="364" y="960" width="20" height="94" rx="10"/>
</g>
<g font-size="3" fill="#888" text-anchor="middle"><text x="62" y="1036">5%</text><text x="107" y="1030">7%</text><text x="151" y="1024">12%</text><text x="196" y="1017">15%</text><text x="240" y="1006">17%</text><text x="285" y="996">21%</text><text x="329" y="981">33%</text><text x="374" y="957">41%</text></g>
<g font-size="3" fill="#bbb" text-anchor="middle"><text x="62" y="1064">2016</text><text x="107" y="1064">2017</text><text x="151" y="1064">2018</text><text x="196" y="1064">2019</text><text x="240" y="1064">2020</text><text x="285" y="1064">2021</text><text x="329" y="1064">2022</text><text x="374" y="1064">2023</text></g>

<!-- ================= SUSTAINABILITY ================= -->
<rect x="454" y="918" width="506" height="22" fill="#efeff1"/>
<rect x="467" y="917" width="24" height="25" rx="4" fill="#8a1c59"/>
<text x="479" y="935" font-size="15" fill="#fff" text-anchor="middle">S</text>
<text x="502" y="935" font-size="14.5" fill="#2a2a2e">Sustainability</text>
<use href="#rf" x="597" y="923" width="14" height="14"/><use href="#cp" x="621" y="921" width="14" height="16"/>
<use href="#gr" x="908" y="923" width="12" height="12"/><use href="#xx" x="928" y="923" width="12" height="12"/>
<g fill="url(#sb)">
<rect x="488" y="965" width="31" height="7" rx="3.5" opacity="0.5"/>
<rect x="488" y="980" width="168" height="7" rx="3.5"/>
<rect x="488" y="995" width="112" height="7" rx="3.5"/>
<rect x="488" y="1010" width="189" height="7" rx="3.5"/>
<rect x="488" y="1025" width="302" height="7" rx="3.5"/>
<rect x="488" y="1040" width="372" height="7" rx="3.5"/>
</g>
<g fill="none" stroke="#d6e6f3" stroke-width="1">
<rect x="738" y="965" width="176" height="7" rx="3.5"/><rect x="830" y="980" width="84" height="7" rx="3.5"/><rect x="865" y="995" width="49" height="7" rx="3.5"/><rect x="890" y="1010" width="24" height="7" rx="3.5"/><rect x="906" y="1025" width="8" height="7" rx="3.5"/><line x1="913" y1="1040" x2="913" y2="1047"/>
</g>
<g font-size="3.3" fill="#555"><text x="472" y="970">ASM</text><text x="472" y="985">INM</text><text x="472" y="1000">ACO</text><text x="472" y="1015">COU</text><text x="472" y="1030">UHN</text><text x="472" y="1045">WMP</text>
<text x="921" y="970">ASM</text><text x="921" y="985">INM</text><text x="921" y="1000">ACO</text><text x="921" y="1015">COU</text><text x="921" y="1030">UHN</text><text x="921" y="1045">WMP</text></g>

<!-- ================= FRAMES ================= -->
<g fill="#1a1a1c">
<rect x="0" y="0" width="1920" height="2"/><rect x="0" y="1078" width="1920" height="2"/>
<rect x="0" y="0" width="2" height="1080"/><rect x="1918" y="0" width="2" height="1080"/>
<rect x="960" y="0" width="2" height="1080"/><rect x="0" y="539" width="1920" height="2"/>
</g>
</svg>
</body></html>
